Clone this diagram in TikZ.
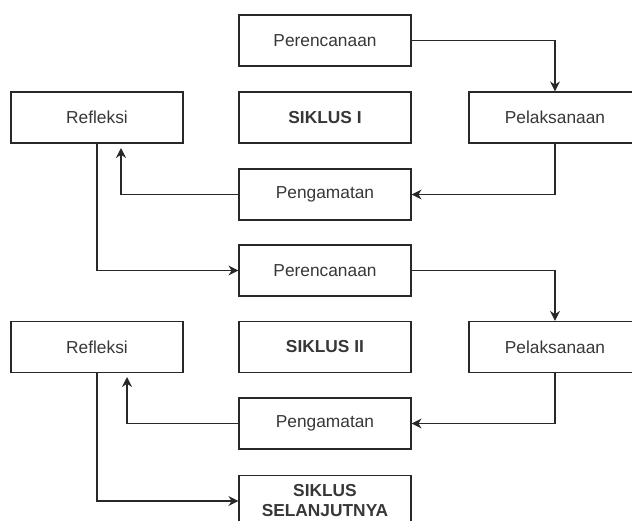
\documentclass[tikz,border=0pt]{standalone}
\usepackage{fontspec}
\setmainfont{Liberation Sans}
\usetikzlibrary{arrows.meta}
\definecolor{linecol}{RGB}{40,40,40}
\definecolor{txtcol}{RGB}{55,55,55}
\begin{document}
\begin{tikzpicture}[x=0.75pt,y=-0.75pt,
  box/.style={draw=linecol, line width=0.9pt, minimum width=129pt, minimum height=38.25pt,
    inner sep=0pt, text=txtcol, align=center, font=\fontsize{13}{15}\selectfont},
  boldbox/.style={box, font=\fontsize{13}{15}\selectfont\bfseries},
  conn/.style={draw=linecol, line width=0.9pt, -{Stealth[length=7.5pt,width=7.5pt]}}]
\useasboundingbox (0,0) rectangle (632,521);
\clip (0,0) rectangle (632,521);
% cycle I
\node[box] (p1) at (325,40.5) {Perencanaan};
\node[box] (r1) at (97,117.5) {Refleksi};
\node[boldbox] (s1) at (325,117.5) {SIKLUS I};
\node[box] (l1) at (555,117.5) {Pelaksanaan};
\node[box] (g1) at (325,194.5) {Pengamatan};
% cycle II
\node[box] (p2) at (325,270.5) {Perencanaan};
\node[box] (r2) at (97,347) {Refleksi};
\node[boldbox] (s2) at (325,347) {SIKLUS II};
\node[box] (l2) at (555,347) {Pelaksanaan};
\node[box] (g2) at (325,423.5) {Pengamatan};
\node[boldbox] (s3) at (325,501) {SIKLUS\\SELANJUTNYA};
% connectors
\coordinate (a1) at (121,148);
\coordinate (a2) at (127,377);
\draw[conn] (p1.east) -| (l1.north);
\draw[conn] (l1.south) |- (g1.east);
\draw[conn] (g1.west) -| (a1);
\draw[conn] (r1.south) |- (p2.west);
\draw[conn] (p2.east) -| (l2.north);
\draw[conn] (l2.south) |- (g2.east);
\draw[conn] (g2.west) -| (a2);
\draw[conn] (r2.south) |- (s3.west);
\end{tikzpicture}
\end{document}
